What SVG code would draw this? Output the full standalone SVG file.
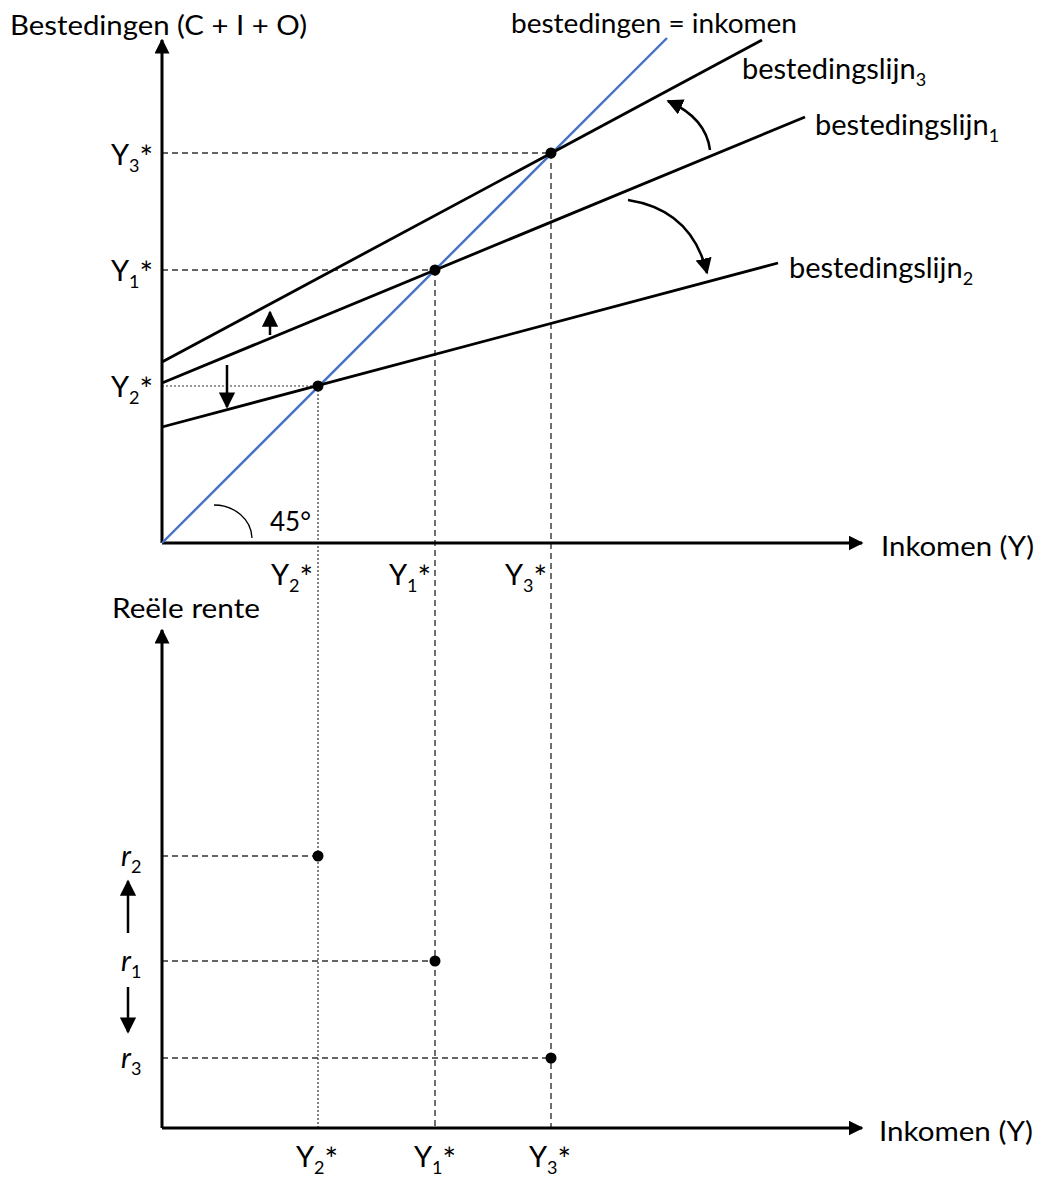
<svg xmlns="http://www.w3.org/2000/svg" width="1043" height="1178" viewBox="0 0 1043 1178">
<style>
text{font-family:Lato,"Open Sans","Liberation Sans",sans-serif;fill:#000;font-size:26px}
.lbl{font-size:29px}
.bl{font-size:29px}
.sub{font-size:18px}
.ast{font-size:32px}
.axis{stroke:#000;stroke-width:3;fill:none}
.line{stroke:#000;stroke-width:2.8;fill:none}
.blue{stroke:#4472C4;stroke-width:2.4;fill:none}
.dash{stroke:#333;stroke-width:1.4;stroke-dasharray:6 4;fill:none}
.dot{stroke:#333;stroke-width:1.2;stroke-dasharray:2 2;fill:none}
.sm{stroke:#000;stroke-width:2.5;fill:none}
.pt{fill:#000}
</style>
<defs>
<marker id="ah" viewBox="0 0 10 10" refX="9" refY="5" markerWidth="5" markerHeight="5" markerUnits="strokeWidth" orient="auto"><path d="M0,0 L10,5 L0,10 z" fill="#000"/></marker>
<marker id="ahs" viewBox="0 0 10 10" refX="9" refY="5" markerWidth="6.5" markerHeight="6.5" markerUnits="strokeWidth" orient="auto"><path d="M0,0 L10,5 L0,10 z" fill="#000"/></marker>
</defs>
<g id="guides">
<path class="dash" d="M162,153H551M162,270H435"/>
<path class="dot" d="M162,386H318"/>
<path class="dot" d="M318,386V1128"/>
<path class="dash" d="M435,270V1128M551,153V1128"/>
<path class="dash" d="M162,856H318M162,961H435M162,1058H551"/>
</g>
<g id="connectors">
<path class="axis" d="M162,543V40" marker-end="url(#ah)"/>
<path class="axis" d="M162,543H862" marker-end="url(#ah)"/>
<path class="axis" d="M162,1128V630" marker-end="url(#ah)"/>
<path class="axis" d="M162,1128H862" marker-end="url(#ah)"/>
<path class="blue" d="M162,543L667,38"/>
<path class="line" d="M162,362L762,40"/>
<path class="line" d="M162,383L805,117"/>
<path class="line" d="M162,427L778,263"/>
<path class="sm" d="M270,335V312" marker-end="url(#ahs)"/>
<path class="sm" d="M227,365V407" marker-end="url(#ahs)"/>
<path class="sm" d="M128,933V881" marker-end="url(#ahs)"/>
<path class="sm" d="M128,987V1032" marker-end="url(#ahs)"/>
<path class="sm" d="M710,150Q706,118 668,101" marker-end="url(#ahs)"/>
<path class="sm" d="M628,200Q692,210 707,273" marker-end="url(#ahs)"/>
<path stroke="#000" stroke-width="1.3" fill="none" d="M214,505A38,34 0 0 1 252,538"/>
</g>
<g id="points">
<circle class="pt" cx="318" cy="386" r="5.5"/>
<circle class="pt" cx="435" cy="270" r="5.5"/>
<circle class="pt" cx="551" cy="153" r="5.5"/>
<circle class="pt" cx="318" cy="856" r="5.5"/>
<circle class="pt" cx="435" cy="961" r="5.5"/>
<circle class="pt" cx="551" cy="1058" r="5.5"/>
</g>
<g id="labels">
<text x="10" y="35" textLength="297" lengthAdjust="spacingAndGlyphs">Bestedingen (C + I + O)</text>
<text x="511" y="33" textLength="286" lengthAdjust="spacingAndGlyphs">bestedingen = inkomen</text>
<text class="bl" x="742" y="79">bestedingslijn<tspan class="sub" dy="7">3</tspan></text>
<text class="bl" x="815" y="135">bestedingslijn<tspan class="sub" dy="7">1</tspan></text>
<text class="bl" x="789" y="278">bestedingslijn<tspan class="sub" dy="7">2</tspan></text>
<text x="881" y="556" textLength="153" lengthAdjust="spacingAndGlyphs">Inkomen (Y)</text>
<text x="879" y="1141" textLength="154" lengthAdjust="spacingAndGlyphs">Inkomen (Y)</text>
<text x="112" y="618" textLength="148" lengthAdjust="spacingAndGlyphs">Reële rente</text>
<text x="270" y="531">45°</text>
<text class="lbl" x="111" y="165">Y<tspan class="sub" dy="7">3</tspan><tspan class="ast" dy="-3">*</tspan></text>
<text class="lbl" x="111" y="281">Y<tspan class="sub" dy="7">1</tspan><tspan class="ast" dy="-3">*</tspan></text>
<text class="lbl" x="111" y="397">Y<tspan class="sub" dy="7">2</tspan><tspan class="ast" dy="-3">*</tspan></text>
<text class="lbl" x="271" y="585">Y<tspan class="sub" dy="7">2</tspan><tspan class="ast" dy="-3">*</tspan></text>
<text class="lbl" x="389" y="585">Y<tspan class="sub" dy="7">1</tspan><tspan class="ast" dy="-3">*</tspan></text>
<text class="lbl" x="505" y="585">Y<tspan class="sub" dy="7">3</tspan><tspan class="ast" dy="-3">*</tspan></text>
<text class="lbl" x="296" y="1167">Y<tspan class="sub" dy="7">2</tspan><tspan class="ast" dy="-3">*</tspan></text>
<text class="lbl" x="414" y="1167">Y<tspan class="sub" dy="7">1</tspan><tspan class="ast" dy="-3">*</tspan></text>
<text class="lbl" x="529" y="1167">Y<tspan class="sub" dy="7">3</tspan><tspan class="ast" dy="-3">*</tspan></text>
<text class="lbl" x="121" y="866" font-style="italic">r<tspan class="sub" dy="7" font-style="normal">2</tspan></text>
<text class="lbl" x="121" y="971" font-style="italic">r<tspan class="sub" dy="7" font-style="normal">1</tspan></text>
<text class="lbl" x="121" y="1068" font-style="italic">r<tspan class="sub" dy="7" font-style="normal">3</tspan></text>
</g>
</svg>
